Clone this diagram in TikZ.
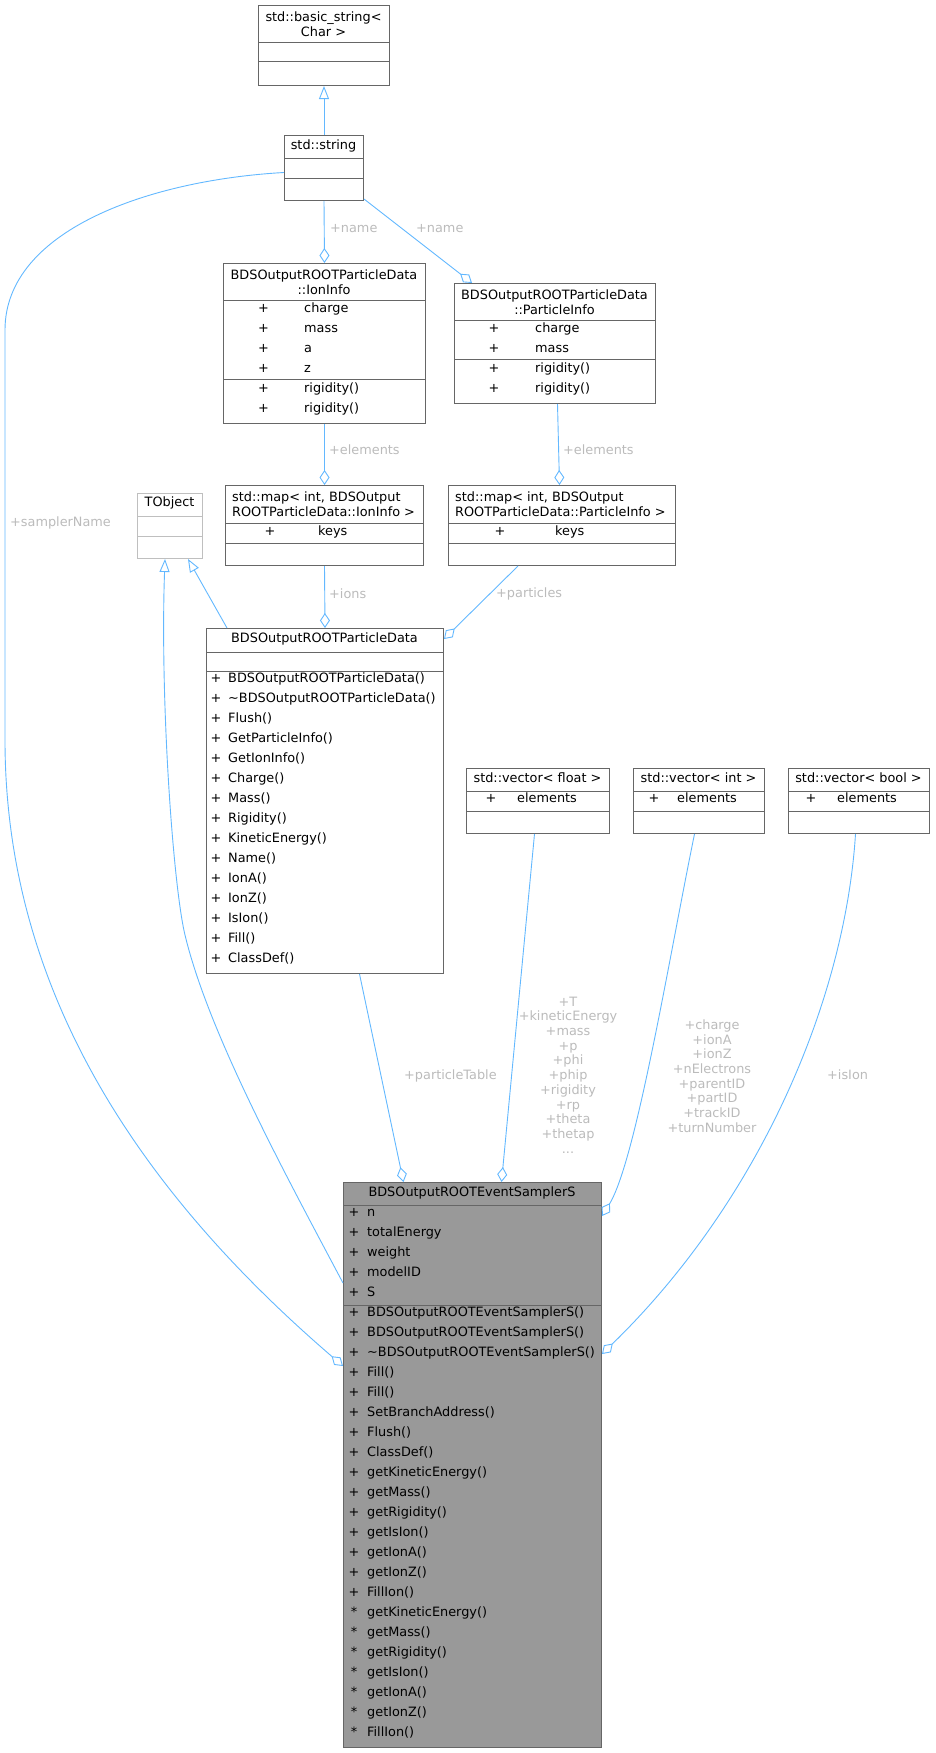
\documentclass[tikz,border=0pt]{standalone}
\usepackage{fontspec}
\setmainfont{DejaVu Sans}
\usetikzlibrary{arrows.meta, positioning}
\definecolor{edgeblue}{HTML}{63B8FF}
\definecolor{boxgray}{HTML}{666666}
\definecolor{lblgray}{HTML}{BBBBBB}
\definecolor{extgray}{HTML}{BFBFBF}
\definecolor{focusgray}{HTML}{999999}
\newcommand{\dgfont}{\fontsize{12.85}{14.7}\selectfont}

\begin{document}
\begin{tikzpicture}[
  x=1pt, y=-1pt,
  every node/.style={font=\dgfont, inner sep=0pt},
  clsbox/.style 2 args={
    draw=boxgray, fill=white, line width=1pt,
    anchor=north west, minimum width=#1, minimum height=#2
  },
  clssep/.style={draw=boxgray, line width=1pt},
  clstitle/.style={anchor=center, align=center},
  rowsym/.style={anchor=mid},
  rowtext/.style={anchor=mid west},
  edgelbl/.style={text=lblgray, anchor=mid west},
  assoc/.style={draw=edgeblue, line width=0.9pt,
    -{Diamond[open, fill=white, length=15pt, width=10pt]}},
  inh/.style={draw=edgeblue, line width=0.9pt,
    -{Triangle[open, fill=white, length=13pt, width=10pt]}}
]
\useasboundingbox (0,0) rectangle (935,1753);

% std::basic_string< Char >
\node[clsbox={131}{80}] (bstr) at (258,5) {};
\node[clstitle] (bstrt) at (323.5,24) {std::basic\_string<\\Char >};
\draw[clssep] (258,43) -- ++(131,0);
\draw[clssep] (258,62) -- ++(131,0);

% std::string
\node[clsbox={79}{65}] (str) at (284,135) {};
\node[clstitle, anchor=mid] (strt) at (323.5,147) {std::string};
\draw[clssep] (284,158) -- ++(79,0);
\draw[clssep] (284,178) -- ++(79,0);

% IonInfo
\node[clsbox={202}{160}] (ion) at (223,263) {};
\node[clstitle] (iont) at (324,282) {BDSOutputROOTParticleData\\::IonInfo};
\draw[clssep] (223,300) -- ++(202,0);
\draw[clssep] (223,379) -- ++(202,0);
\foreach \mem [count=\i from 0] in {charge, mass, a, z, rigidity(), rigidity()} {
  \node[rowsym] (ionp\i) at (263.5,{310+20*\i}) {+};
  \node[rowtext] (ionm\i) at (304,{310+20*\i}) {\mem};
}

% ParticleInfo
\node[clsbox={201}{120}] (pinfo) at (454,283) {};
\node[clstitle] (pinfot) at (554.5,302) {BDSOutputROOTParticleData\\::ParticleInfo};
\draw[clssep] (454,320) -- ++(201,0);
\draw[clssep] (454,359) -- ++(201,0);
\foreach \mem [count=\i from 0] in {charge, mass, rigidity(), rigidity()} {
  \node[rowsym] (pinfop\i) at (494,{330+20*\i}) {+};
  \node[rowtext] (pinfom\i) at (535,{330+20*\i}) {\mem};
}

% std::map< int, IonInfo >
\node[clsbox={198}{80}] (mapion) at (225,485) {};
\node[anchor=west, align=left] (mapiont) at (232,504) {std::map< int, BDSOutput\\ROOTParticleData::IonInfo >};
\draw[clssep] (225,523) -- ++(198,0);
\draw[clssep] (225,543) -- ++(198,0);
\node[rowsym] (mapionp) at (270,533) {+};
\node[rowtext] (mapionm) at (318,533) {keys};

% std::map< int, ParticleInfo >
\node[clsbox={227}{80}] (mappinfo) at (448,485) {};
\node[anchor=west, align=left] (mappinfot) at (455,504) {std::map< int, BDSOutput\\ROOTParticleData::ParticleInfo >};
\draw[clssep] (448,523) -- ++(227,0);
\draw[clssep] (448,543) -- ++(227,0);
\node[rowsym] (mappinfop) at (500,533) {+};
\node[rowtext] (mappinfom) at (555,533) {keys};

% TObject
\node[clsbox={65}{65}, draw=extgray] (tobj) at (137,493) {};
\node[clstitle, anchor=mid] (tobjt) at (169.5,504) {TObject};
\draw[clssep, draw=extgray] (137,516) -- ++(65,0);
\draw[clssep, draw=extgray] (137,536) -- ++(65,0);

% BDSOutputROOTParticleData
\node[clsbox={237}{345}] (pdata) at (206,628) {};
\node[clstitle, anchor=mid] (pdatat) at (324.5,640) {BDSOutputROOTParticleData};
\draw[clssep] (206,652) -- ++(237,0);
\draw[clssep] (206,671) -- ++(237,0);
\foreach \mem [count=\i from 0] in {BDSOutputROOTParticleData(),
    \textasciitilde BDSOutputROOTParticleData(), Flush(), GetParticleInfo(),
    GetIonInfo(), Charge(), Mass(), Rigidity(), KineticEnergy(), Name(),
    IonA(), IonZ(), IsIon(), Fill(), ClassDef()} {
  \node[rowsym] (pdatap\i) at (216,{680+20*\i}) {+};
  \node[rowtext] (pdatam\i) at (228,{680+20*\i}) {\mem};
}

% std::vector< float / int / bool >
\node[clsbox={143}{65}] (vfloat) at (466,768) {};
\node[clstitle, anchor=mid] (vfloatt) at (537.5,780) {std::vector< float >};
\node[clsbox={131}{65}] (vint) at (633,768) {};
\node[clstitle, anchor=mid] (vintt) at (698.5,780) {std::vector< int >};
\node[clsbox={141}{65}] (vbool) at (788,768) {};
\node[clstitle, anchor=mid] (vboolt) at (858.5,780) {std::vector< bool >};
\foreach \bx/\w in {466/143, 633/131, 788/141} {
  \draw[clssep] (\bx,791) -- ++(\w,0);
  \draw[clssep] (\bx,811) -- ++(\w,0);
}
\foreach \px/\ex [count=\i] in {491/517, 654/677, 811/837} {
  \node[rowsym] (vecp\i) at (\px,800) {+};
  \node[rowtext] (vecm\i) at (\ex,800) {elements};
}

% BDSOutputROOTEventSamplerS
\node[clsbox={258}{565}, fill=focusgray] (samp) at (343,1182) {};
\node[clstitle, anchor=mid] (sampt) at (472,1194) {BDSOutputROOTEventSamplerS};
\draw[clssep] (343,1205) -- ++(258,0);
\draw[clssep] (343,1305) -- ++(258,0);
\foreach \sym/\mem [count=\i from 0] in {+/n, +/totalEnergy, +/weight, +/modelID, +/S,
    +/BDSOutputROOTEventSamplerS(), +/BDSOutputROOTEventSamplerS(),
    +/\textasciitilde BDSOutputROOTEventSamplerS(), +/Fill(), +/Fill(),
    +/SetBranchAddress(), +/Flush(), +/ClassDef(), +/getKineticEnergy(),
    +/getMass(), +/getRigidity(), +/getIsIon(), +/getIonA(), +/getIonZ(),
    +/FillIon(), */getKineticEnergy(), */getMass(), */getRigidity(),
    */getIsIon(), */getIonA(), */getIonZ(), */FillIon()} {
  \node[rowsym] (sampp\i) at (354,{1214+20*\i}) {\sym};
  \node[rowtext] (sampm\i) at (367,{1214+20*\i}) {\mem};
}

% connectors
\draw[inh] (str.north) -- (bstr.south);
\draw[assoc] (str.south) -- (ion.north);
\draw[assoc] ([yshift=2]str.south east) -- ([xshift=18]pinfo.north west);
\draw[assoc] (ion.south) -- (mapion.north);
\draw[assoc] ([xshift=2.5]pinfo.south) -- ([xshift=-2.5]mappinfo.north);
\draw[assoc] (mapion.south) -- (pdata.north);
\draw[assoc] ([xshift=-44]mappinfo.south) -- ([yshift=-11]pdata.north east);
\draw[inh] ([xshift=21]pdata.north west) -- ([xshift=51]tobj.south west);
\draw[inh] ([yshift=-101]samp.north west)
  .. controls (288,1179) and (209,1035) .. (185,935)
  .. controls (173,885) and (160,700) .. ([xshift=28]tobj.south west);
\draw[assoc] ([yshift=-4.5]str.west)
  .. controls (150,180) and (5,230) .. (5,330) -- (5,740)
  .. controls (5,1000) and (150,1200) .. ([yshift=-184]samp.north west);
\draw[assoc] ([xshift=34.5]pdata.south) -- ([xshift=-69]samp.north);
\draw[assoc] ([xshift=-3.5]vfloat.south) -- ([xshift=29]samp.north);
\draw[assoc] ([xshift=-4.5]vint.south)
  .. controls (670,953) and (636,1161) .. ([yshift=-34]samp.north east);
\draw[assoc] ([xshift=-3.5]vbool.south)
  .. controls (845,1000) and (760,1200) .. ([yshift=-172]samp.north east);

% connector labels
\node[edgelbl] (lname1) at (330,230) {+name};
\node[edgelbl] (lname2) at (416,230) {+name};
\node[edgelbl] (lelem1) at (329,452) {+elements};
\node[edgelbl] (lelem2) at (563,452) {+elements};
\node[edgelbl] (lions) at (329,596) {+ions};
\node[edgelbl] (lpart) at (496,595) {+particles};
\node[edgelbl] (lsname) at (10,524) {+samplerName};
\node[edgelbl] (lptable) at (404,1077) {+particleTable};
\node[edgelbl, anchor=center, align=center] (lfloat) at (568,1075)
  {+T\\+kineticEnergy\\+mass\\+p\\+phi\\+phip\\+rigidity\\+rp\\+theta\\+thetap\\...};
\node[edgelbl, anchor=center, align=center] (lint) at (712,1076)
  {+charge\\+ionA\\+ionZ\\+nElectrons\\+parentID\\+partID\\+trackID\\+turnNumber};
\node[edgelbl] (lbool) at (827,1077) {+isIon};

\end{tikzpicture}
\end{document}
